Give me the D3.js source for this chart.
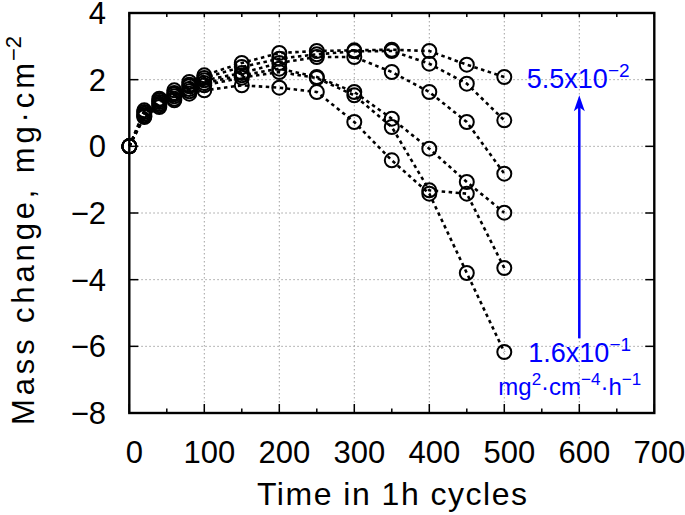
<!DOCTYPE html>
<html>

<head>
    <meta charset="UTF-8">
    <title>Mass change</title>
    <script src="https://cdn.jsdelivr.net/npm/d3@7"></script>
    <style>
        body { margin: 0; background: #fff; }
        text { font-family: "Liberation Sans", Arial, Helvetica, sans-serif; }
    </style>
</head>

<body>
    <div id="chart"></div>
    <script type="text/javascript">
        const width = 685;
        const height = 515;

        // cycles (h) and mass change (mg/cm2) for six parabolic rate constants
        const cycles = [0, 20, 40, 60, 80, 100, 150, 200, 250, 300, 350, 400, 450, 500];
        const s1 = [0, 1.08, 1.43, 1.68, 1.93, 2.13, 2.50, 2.80, 2.86, 2.88, 2.90, 2.86, 2.45, 2.08];
        const s2 = [0, 1.03, 1.38, 1.60, 1.85, 2.05, 2.38, 2.63, 2.76, 2.85, 2.86, 2.48, 1.88, 0.78];
        const s3 = [0, 0.98, 1.33, 1.56, 1.80, 1.98, 2.20, 2.50, 2.68, 2.68, 2.23, 1.63, 0.73, -0.82];
        const s4 = [0, 0.93, 1.28, 1.50, 1.72, 1.90, 2.13, 2.33, 2.08, 1.63, 0.83, -0.07, -1.07, -1.99];
        const s5 = [0, 0.90, 1.23, 1.43, 1.65, 1.83, 2.06, 2.23, 2.05, 1.53, 0.58, -1.32, -1.42, -3.65];
        const s6 = [0, 0.88, 1.18, 1.38, 1.58, 1.68, 1.83, 1.76, 1.63, 0.73, -0.42, -1.42, -3.80, -6.17];
        const allSeries = [s1, s2, s3, s4, s5, s6];

        const xTicks = [0, 100, 200, 300, 400, 500, 600, 700];
        const xMinor = [50, 150, 250, 350, 450, 550, 650];
        const yTicks = [-8, -6, -4, -2, 0, 2, 4];

        const x = d3.scaleLinear().domain([0, 700]).range([129.3, 654.3]);
        const y = d3.scaleLinear().domain([-8, 4]).range([413, 13]);

        const svg = d3.select("#chart")
            .append("svg")
            .attr("width", width)
            .attr("height", height);

        // grid
        const grid = svg.append("g")
            .attr("stroke", "#a0a0a0")
            .attr("stroke-width", 1)
            .attr("stroke-dasharray", "1.5,2.5");
        grid.selectAll("line.gx")
            .data(xTicks.slice(1, -1))
            .enter()
            .append("line")
            .attr("x1", d => x(d)).attr("x2", d => x(d))
            .attr("y1", y(4)).attr("y2", y(-8));
        grid.selectAll("line.gy")
            .data(yTicks.slice(1, -1))
            .enter()
            .append("line")
            .attr("y1", d => y(d)).attr("y2", d => y(d))
            .attr("x1", x(0)).attr("x2", x(700));

        // ticks (inward)
        const ticks = svg.append("g").attr("stroke", "#000").attr("stroke-width", 1.5);
        xTicks.forEach(function (d) {
            ticks.append("line").attr("x1", x(d)).attr("x2", x(d)).attr("y1", y(-8)).attr("y2", y(-8) - 9);
            ticks.append("line").attr("x1", x(d)).attr("x2", x(d)).attr("y1", y(4)).attr("y2", y(4) + 4);
        });
        xMinor.forEach(function (d) {
            ticks.append("line").attr("x1", x(d)).attr("x2", x(d)).attr("y1", y(-8)).attr("y2", y(-8) - 4.5);
            ticks.append("line").attr("x1", x(d)).attr("x2", x(d)).attr("y1", y(4)).attr("y2", y(4) + 4);
        });
        yTicks.forEach(function (d) {
            ticks.append("line").attr("y1", y(d)).attr("y2", y(d)).attr("x1", x(0)).attr("x2", x(0) + 9);
            ticks.append("line").attr("y1", y(d)).attr("y2", y(d)).attr("x1", x(700)).attr("x2", x(700) - 9);
        });

        // series lines
        const line = d3.line()
            .x((d, i) => x(cycles[i]))
            .y(d => y(d));
        svg.append("g")
            .selectAll("path")
            .data(allSeries)
            .enter()
            .append("path")
            .attr("d", line)
            .attr("fill", "none")
            .attr("stroke", "#000")
            .attr("stroke-width", 2.6)
            .attr("stroke-dasharray", "3.5,3.5");

        // markers
        allSeries.forEach(function (s) {
            svg.append("g")
                .selectAll("circle")
                .data(s)
                .enter()
                .append("circle")
                .attr("cx", (d, i) => x(cycles[i]))
                .attr("cy", d => y(d))
                .attr("r", 7)
                .attr("fill", "none")
                .attr("stroke", "#000")
                .attr("stroke-width", 2);
        });

        // frame
        svg.append("rect")
            .attr("x", x(0)).attr("y", y(4))
            .attr("width", x(700) - x(0))
            .attr("height", y(-8) - y(4))
            .attr("fill", "none")
            .attr("stroke", "#000")
            .attr("stroke-width", 2.4);

        // tick labels
        svg.append("g")
            .selectAll("text")
            .data(xTicks)
            .enter()
            .append("text")
            .attr("x", d => x(d) + 5)
            .attr("y", 463)
            .attr("text-anchor", "middle")
            .attr("font-size", 31)
            .text(d => d);
        svg.append("g")
            .selectAll("text")
            .data(yTicks)
            .enter()
            .append("text")
            .attr("x", 106)
            .attr("y", d => y(d) + 11)
            .attr("text-anchor", "end")
            .attr("font-size", 31)
            .text(d => d < 0 ? "\u2212" + Math.abs(d) : d);

        // axis titles
        svg.append("text")
            .attr("x", 257)
            .attr("y", 505)
            .attr("font-size", 32)
            .attr("textLength", 270)
            .attr("lengthAdjust", "spacing")
            .text("Time in 1h cycles");

        svg.append("text")
            .attr("transform", "translate(34,425)rotate(-90)")
            .attr("font-size", 31)
            .attr("textLength", 362)
            .attr("lengthAdjust", "spacing")
            .text("Mass change, mg\u00b7cm");
        svg.append("text")
            .attr("transform", "translate(21,61)rotate(-90)")
            .attr("font-size", 22)
            .text("\u22122");

        // annotation
        const blue = "#0000ff";
        const ax = 600;
        svg.append("line")
            .attr("x1", x(ax)).attr("x2", x(ax))
            .attr("y1", y(-5.76)).attr("y2", y(1.2))
            .attr("stroke", blue)
            .attr("stroke-width", 2.5);
        const tipY = y(1.53);
        svg.append("path")
            .attr("d", "M" + x(ax) + "," + tipY +
                "L" + (x(ax) + 5.5) + "," + (tipY + 16) +
                "L" + x(ax) + "," + (tipY + 12) +
                "L" + (x(ax) - 5.5) + "," + (tipY + 16) + "Z")
            .attr("fill", blue);

        const t1 = svg.append("text")
            .attr("x", x(530)).attr("y", y(1.74))
            .attr("font-size", 27)
            .attr("fill", blue);
        t1.append("tspan").text("5.5x10");
        t1.append("tspan").attr("dy", -11).attr("font-size", 19).text("\u22122");

        const t2 = svg.append("text")
            .attr("x", x(532)).attr("y", y(-6.48))
            .attr("font-size", 27)
            .attr("fill", blue);
        t2.append("tspan").text("1.6x10");
        t2.append("tspan").attr("dy", -11).attr("font-size", 19).text("\u22121");

        const t3 = svg.append("text")
            .attr("x", x(492)).attr("y", y(-7.47))
            .attr("font-size", 24)
            .attr("fill", blue);
        t3.append("tspan").text("mg");
        t3.append("tspan").attr("dy", -10).attr("font-size", 17).text("2");
        t3.append("tspan").attr("dy", 10).text("\u00b7cm");
        t3.append("tspan").attr("dy", -10).attr("font-size", 17).text("\u22124");
        t3.append("tspan").attr("dy", 10).text("\u00b7h");
        t3.append("tspan").attr("dy", -10).attr("font-size", 17).text("\u22121");
    </script>
</body>

</html>
